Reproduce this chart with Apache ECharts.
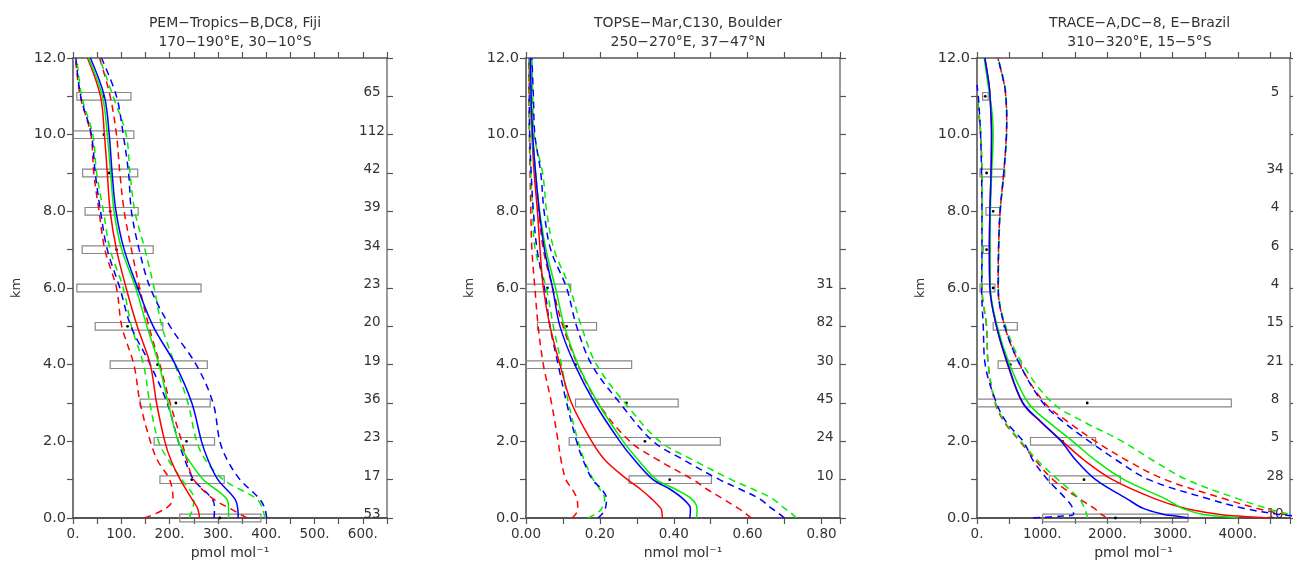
<!DOCTYPE html>
<html>
<head>
<meta charset="utf-8">
<script src="https://cdn.jsdelivr.net/npm/echarts@6/dist/echarts.min.js"></script>
<style>html,body{margin:0;padding:0;background:#fff}#c{width:1293px;height:566px}</style>
</head>
<body>
<div id="c"></div>
<script>
// ---------------- Panel 1: PEM-Tropics-B (pmol/mol) ----------------
const P1_TITLE = 'PEM−Tropics−B,DC8, Fiji\n170−190°E, 30−10°S';
const P1_UNIT = 'pmol mol⁻¹';
const P1_ALT = [0, 0.25, 0.5, 1, 1.5, 2, 3, 4, 5, 6, 7, 8, 9, 10, 11, 12];
const P1_RED_MED   = [262, 258, 246, 222, 203, 190, 173, 160, 133, 110, 90, 77, 71, 65, 57, 30];
const P1_GREEN_MED = [322, 322, 318, 270, 240, 218, 197, 178, 153, 130, 101, 85, 78, 71, 61, 32];
const P1_BLUE_MED  = [342, 341, 335, 300, 280, 266, 246, 212, 166, 134, 106, 89, 81, 75, 65, 36];
const P1_RED_LO    = [148, 192, 207, 200, 175, 160, 139, 126, 101, 90, 66, 54, 43, 37, 15, 5];
const P1_GREEN_LO  = [240, 248, 250, 225, 198, 177, 159, 146, 121, 104, 77, 63, 49, 41, 18, 8];
const P1_BLUE_LO   = [292, 293, 288, 250, 232, 218, 195, 160, 120, 97, 71, 57, 46, 38, 16, 6];
const P1_RED_HI    = [360, 325, 290, 250, 236, 225, 201, 180, 157, 138, 121, 106, 97, 90, 77, 55];
const P1_GREEN_HI  = [397, 392, 380, 311, 275, 256, 238, 211, 184, 168, 149, 128, 118, 110, 83, 55];
const P1_BLUE_HI   = [401, 397, 386, 346, 320, 304, 290, 255, 201, 160, 137, 121, 115, 104, 90, 59];
const P1_BOX_ALT = [11, 10, 9, 8, 7, 6, 5, 4, 3, 2, 1, 0];
const P1_BOX_LO  = [8, 1, 20, 25, 19, 8, 46, 77, 139, 168, 180, 221];
const P1_BOX_HI  = [120, 126, 134, 135, 166, 265, 186, 278, 284, 293, 313, 389];
const P1_BOX_MID = [63, 64, 75, 77, 90, 134, 113, 175, 213, 235, 246, 304];
const P1_COUNT   = [65, 112, 42, 39, 34, 23, 20, 19, 36, 23, 17, 53];

// ---------------- Panel 2: TOPSE (nmol/mol) ----------------
const P2_TITLE = 'TOPSE−Mar,C130, Boulder\n250−270°E, 37−47°N';
const P2_UNIT = 'nmol mol⁻¹';
const P2_ALT = [0, 0.15, 0.25, 0.5, 0.75, 1, 1.5, 2, 3, 4, 5, 6, 7, 8, 9, 10, 11, 12];
const P2_RED_MED   = [0.369, 0.368, 0.365, 0.34, 0.31, 0.275, 0.215, 0.178, 0.123, 0.092, 0.065, 0.047, 0.038, 0.031, 0.022, 0.016, 0.012, 0.010];
const P2_GREEN_MED = [0.461, 0.463, 0.463, 0.448, 0.405, 0.353, 0.305, 0.263, 0.195, 0.141, 0.104, 0.080, 0.054, 0.037, 0.026, 0.017, 0.013, 0.011];
const P2_BLUE_MED  = [0.443, 0.445, 0.445, 0.425, 0.39, 0.344, 0.295, 0.254, 0.186, 0.132, 0.092, 0.072, 0.050, 0.036, 0.026, 0.018, 0.014, 0.012];
const P2_RED_LO    = [0.125, 0.138, 0.140, 0.138, 0.125, 0.108, 0.095, 0.087, 0.069, 0.047, 0.033, 0.024, 0.016, 0.013, 0.011, 0.009, 0.008, 0.008];
const P2_GREEN_LO  = [0.168, 0.195, 0.205, 0.213, 0.200, 0.182, 0.158, 0.141, 0.115, 0.096, 0.074, 0.055, 0.025, 0.018, 0.013, 0.010, 0.009, 0.009];
const P2_BLUE_LO   = [0.195, 0.210, 0.215, 0.218, 0.205, 0.180, 0.155, 0.137, 0.110, 0.087, 0.065, 0.050, 0.030, 0.020, 0.014, 0.010, 0.009, 0.009];
const P2_RED_HI    = [0.610, 0.590, 0.575, 0.533, 0.490, 0.452, 0.360, 0.281, 0.195, 0.140, 0.100, 0.072, 0.047, 0.035, 0.025, 0.018, 0.014, 0.012];
const P2_GREEN_HI  = [0.732, 0.715, 0.700, 0.668, 0.615, 0.556, 0.455, 0.362, 0.268, 0.191, 0.150, 0.119, 0.076, 0.056, 0.045, 0.022, 0.018, 0.016];
const P2_BLUE_HI   = [0.700, 0.680, 0.665, 0.632, 0.580, 0.524, 0.430, 0.344, 0.254, 0.178, 0.137, 0.110, 0.067, 0.049, 0.040, 0.024, 0.020, 0.016];
const P2_BOX_ALT = [6, 5, 4, 3, 2, 1];
const P2_BOX_LO  = [0, 0.031, 0, 0.134, 0.117, 0.279];
const P2_BOX_HI  = [0.121, 0.191, 0.286, 0.412, 0.526, 0.502];
const P2_BOX_MID = [0.058, 0.110, 0.134, 0.272, 0.322, 0.389];
const P2_COUNT   = [31, 82, 30, 45, 24, 10];

// ---------------- Panel 3: TRACE-A (pmol/mol) ----------------
const P3_TITLE = 'TRACE−A,DC−8, E−Brazil\n310−320°E, 15−5°S';
const P3_UNIT = 'pmol mol⁻¹';
const P3_ALT = [0, 0.05, 0.1, 0.25, 0.5, 1, 1.5, 2, 2.5, 3, 4, 5, 6, 7, 8, 9, 10, 10.5, 11, 11.3, 12];
const P3_RED_MED   = [4500, 4000, 3700, 3200, 2731, 2077, 1650, 1310, 980, 700, 470, 300, 198, 190, 198, 215, 223, 215, 200, 185, 120];
const P3_GREEN_MED = [4000, 3700, 3450, 3150, 2888, 2254, 1820, 1468, 1100, 785, 502, 310, 205, 200, 205, 225, 248, 235, 198, 170, 111];
const P3_BLUE_MED  = [3250, 3050, 2850, 2550, 2300, 1819, 1520, 1291, 990, 704, 476, 299, 198, 190, 198, 215, 223, 215, 200, 185, 120];
const P3_RED_LO    = [1976, 1950, 1900, 1800, 1570, 1165, 900, 658, 420, 278, 172, 147, 75, 80, 80, 75, 55, 30, 0, null, null];
const P3_GREEN_LO  = [1700, 1690, 1680, 1650, 1570, 1241, 930, 670, 430, 285, 172, 147, 78, 82, 82, 78, 60, 35, 5, null, null];
const P3_BLUE_LO   = [860, 1300, 1480, 1470, 1363, 1084, 860, 709, 450, 299, 126, 96, 71, 76, 76, 70, 55, 40, 20, 0, null];
const P3_RED_HI    = [5300, 5000, 4700, 4300, 3795, 2888, 2300, 1819, 1400, 1038, 658, 426, 324, 330, 354, 410, 451, 455, 441, 420, 320];
const P3_GREEN_HI  = [5500, 5200, 4800, 4450, 4002, 3217, 2700, 2228, 1650, 1160, 704, 440, 330, 335, 358, 415, 455, 458, 445, 425, 325];
const P3_BLUE_HI   = [5200, 4900, 4600, 4100, 3546, 2634, 2150, 1722, 1330, 1013, 658, 426, 324, 330, 354, 410, 451, 455, 441, 420, 320];
const P3_BOX_ALT = [11, 9, 8, 7, 6, 5, 4, 3, 2, 1, 0];
const P3_BOX_LO  = [87, 46, 137, 96, 46, 248, 324, 0, 820, 1109, 1008];
const P3_BOX_HI  = [172, 426, 350, 198, 274, 618, 679, 3900, 1819, 2199, 3237];
const P3_BOX_MID = [127, 147, 248, 147, 248, 426, 512, 1690, 1312, 1641, 2123];
const P3_COUNT   = [5, 34, 4, 6, 4, 15, 21, 8, 5, 28, 10];

const RED = '#ff0000', GREEN = '#00ee00', BLUE = '#0000ff';
const FONT = 'DejaVu Sans';
const TXT = '#333';
const AXC = '#555';

const panels = [
  {title: P1_TITLE, unit: P1_UNIT, alt: P1_ALT, max: 650, interval: 50,
   fmt: v => (Math.abs(v % 100) < 1e-6 && v <= 600) ? String(Math.round(v)) + '.' : '',
   lines: [[P1_RED_LO, RED, 1], [P1_GREEN_LO, GREEN, 1], [P1_BLUE_LO, BLUE, 1],
           [P1_RED_HI, RED, 1], [P1_GREEN_HI, GREEN, 1], [P1_BLUE_HI, BLUE, 1],
           [P1_RED_MED, RED, 0], [P1_GREEN_MED, GREEN, 0], [P1_BLUE_MED, BLUE, 0]],
   box: [P1_BOX_ALT, P1_BOX_LO, P1_BOX_HI, P1_BOX_MID], count: P1_COUNT,
   grid: {left: 73, top: 58, width: 314, height: 460}},
  {title: P2_TITLE, unit: P2_UNIT, alt: P2_ALT, max: 0.85, interval: 0.1,
   fmt: v => { const t = v * 10; const r = Math.round(t); return (Math.abs(t - r) < 1e-6 && r % 2 === 0 && r <= 8) ? v.toFixed(2) : ''; },
   lines: [[P2_RED_LO, RED, 1], [P2_GREEN_LO, GREEN, 1], [P2_BLUE_LO, BLUE, 1],
           [P2_RED_HI, RED, 1], [P2_GREEN_HI, GREEN, 1], [P2_BLUE_HI, BLUE, 1],
           [P2_RED_MED, RED, 0], [P2_GREEN_MED, GREEN, 0], [P2_BLUE_MED, BLUE, 0]],
   box: [P2_BOX_ALT, P2_BOX_LO, P2_BOX_HI, P2_BOX_MID], count: P2_COUNT,
   grid: {left: 526, top: 58, width: 314, height: 460}},
  {title: P3_TITLE, unit: P3_UNIT, alt: P3_ALT, max: 4800, interval: 500,
   fmt: v => (Math.abs(v % 1000) < 1e-6 && v <= 4000) ? String(Math.round(v)) + '.' : '',
   lines: [[P3_RED_LO, RED, 1], [P3_GREEN_LO, GREEN, 1], [P3_BLUE_LO, BLUE, 1],
           [P3_RED_HI, RED, 1], [P3_GREEN_HI, GREEN, 1], [P3_BLUE_HI, BLUE, 1],
           [P3_RED_MED, RED, 0], [P3_GREEN_MED, GREEN, 0], [P3_BLUE_MED, BLUE, 0]],
   box: [P3_BOX_ALT, P3_BOX_LO, P3_BOX_HI, P3_BOX_MID], count: P3_COUNT,
   grid: {left: 977, top: 58, width: 315, height: 460}}
];

const option = {animation: false, backgroundColor: '#fff',
  title: [], grid: [], xAxis: [], yAxis: [], series: []};

panels.forEach((p, k) => {
  option.grid.push(p.grid);
  option.title.push({text: p.title, left: p.grid.left + p.grid.width / 2, top: 9, textAlign: 'center',
    textStyle: {fontFamily: FONT, fontSize: 14, fontWeight: 'normal', color: TXT, lineHeight: 19}});
  const tick = {show: true, length: 6, lineStyle: {color: AXC, width: 1.2}};
  option.xAxis.push({type: 'value', gridIndex: k, position: 'bottom', min: 0, max: p.max, interval: p.interval,
    axisLine: {show: true, onZero: false, lineStyle: {color: AXC, width: 2}}, axisTick: tick, splitLine: {show: false},
    axisLabel: {formatter: p.fmt, margin: 9, color: TXT, fontFamily: FONT, fontSize: 13.5, showMaxLabel: true},
    name: p.unit, nameLocation: 'middle', nameGap: 28,
    nameTextStyle: {fontFamily: FONT, fontSize: 14, color: TXT}});
  option.xAxis.push({type: 'value', gridIndex: k, position: 'top', min: 0, max: p.max, interval: p.interval,
    axisLine: {show: true, onZero: false, lineStyle: {color: AXC, width: 1.5}}, axisTick: tick, splitLine: {show: false},
    axisLabel: {show: false}});
  option.yAxis.push({type: 'value', gridIndex: k, position: 'left', min: 0, max: 12, interval: 1,
    axisLine: {show: true, onZero: false, lineStyle: {color: '#777', width: 2}}, axisTick: tick, splitLine: {show: false},
    axisLabel: {formatter: v => (Math.round(v) % 2 === 0 ? v.toFixed(1) : ''), margin: 7, color: TXT, fontFamily: FONT, fontSize: 14.5},
    name: 'km', nameLocation: 'middle', nameGap: 50, nameRotate: 90,
    nameTextStyle: {fontFamily: FONT, fontSize: 13, color: TXT}});
  const alts = p.box[0], cnt = p.count;
  option.yAxis.push({type: 'value', gridIndex: k, position: 'right', min: 0, max: 12, interval: 1,
    axisLine: {show: true, onZero: false, lineStyle: {color: '#777', width: 1.5}}, axisTick: tick, splitLine: {show: false},
    axisLabel: {inside: true, margin: 15, align: 'center', verticalAlign: 'bottom', lineHeight: 7,
      color: TXT, fontFamily: FONT, fontSize: 13.5,
      formatter: v => { const r = Math.round(v); const i = alts.indexOf(r); return (Math.abs(v - r) < 1e-6 && i >= 0) ? String(cnt[i]) : ''; }}});

  // boxes
  const boxData = p.box[0].map((a, i) => [p.box[1][i], a, p.box[2][i], p.box[3][i]]);
  option.series.push({type: 'custom', xAxisIndex: 2 * k, yAxisIndex: 2 * k, z: 1, data: boxData,
    encode: {x: [0, 2, 3], y: 1},
    renderItem: (params, api) => {
      const lo = api.value(0), a = api.value(1), hi = api.value(2), mid = api.value(3);
      const p1 = api.coord([lo, a + 0.1]), p2 = api.coord([hi, a - 0.1]), pm = api.coord([mid, a]);
      return {type: 'group', children: [
        {type: 'rect', shape: {x: p1[0], y: p1[1], width: p2[0] - p1[0], height: p2[1] - p1[1]},
         style: {fill: 'rgba(255,255,255,0)', stroke: '#888', lineWidth: 1.2}},
        {type: 'circle', shape: {cx: pm[0], cy: pm[1], r: 1.4}, style: {fill: '#000'}}
      ]};
    }});

  // profile lines
  p.lines.forEach(([vals, color, dashed]) => {
    const data = [];
    p.alt.forEach((a, i) => { if (vals[i] !== null) data.push([vals[i], a]); });
    option.series.push({type: 'line', xAxisIndex: 2 * k, yAxisIndex: 2 * k, z: 3, data: data,
      showSymbol: false, symbol: 'none', smooth: 0.35, clip: true,
      lineStyle: {color: color, width: 1.5, type: dashed ? [7, 5] : 'solid'}});
  });
});

const chart = echarts.init(document.getElementById('c'), null, {renderer: 'canvas'});
chart.setOption(option);
</script>
</body>
</html>
